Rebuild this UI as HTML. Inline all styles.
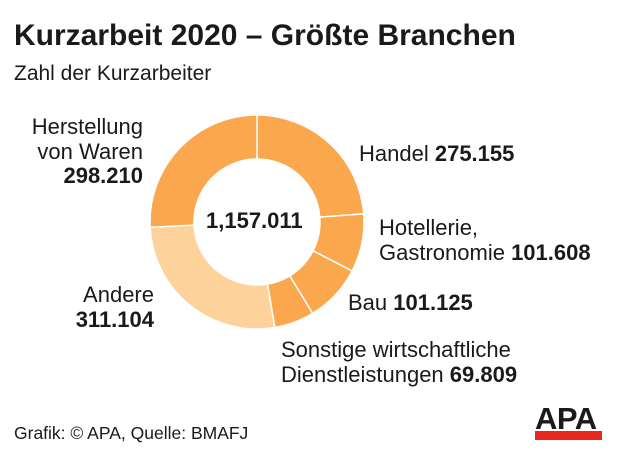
<!DOCTYPE html>
<html><head><meta charset="utf-8"><style>
body{margin:0;width:620px;height:459px;background:#fff;font-family:"Liberation Sans",sans-serif;color:#1a1a1a;position:relative;overflow:hidden}
.t{position:absolute;white-space:nowrap;font-size:22px;line-height:24.5px}
b{font-weight:bold}
</style></head><body>
<div class="t" style="left:14px;top:19px;font-size:30px;font-weight:bold;line-height:34px">Kurzarbeit 2020 – Größte Branchen</div>
<div class="t" style="left:14px;top:62px;font-size:21px">Zahl der Kurzarbeiter</div>
<svg id="s" width="620" height="459" style="position:absolute;left:0;top:0"></svg>
<div class="t" style="left:206px;top:209px;font-size:22px;font-weight:bold">1,157.011</div>
<div class="t" style="left:0px;top:115px;text-align:right;width:143px">Herstellung<br>von Waren<br><b>298.210</b></div>
<div class="t" style="left:359px;top:142px">Handel <b>275.155</b></div>
<div class="t" style="left:379px;top:216px">Hotellerie,<br>Gastronomie <b>101.608</b></div>
<div class="t" style="left:348px;top:291px">Bau <b>101.125</b></div>
<div class="t" style="left:281px;top:338px">Sonstige wirtschaftliche<br>Dienstleistungen <b>69.809</b></div>
<div class="t" style="left:0px;top:283px;text-align:right;width:154px">Andere<br><b>311.104</b></div>
<div class="t" style="left:14px;top:421px;font-size:17.5px">Grafik: © APA, Quelle: BMAFJ</div>
<div style="position:absolute;left:535px;top:431px;width:67px;height:9px;background:#e8281e"></div>
<div class="t" style="left:535px;top:403px;font-size:31px;font-weight:bold;line-height:32px;letter-spacing:-0.5px">APA</div>
<script>
var d=[[275155,'#fba74e'],[101608,'#fba74e'],[101125,'#fba74e'],[69809,'#fba74e'],[311104,'#fdd39b'],[298210,'#fba74e']];
var cx=257,cy=222,R=107,r=63,tot=1157011,a=0,h='';
function p(rad,ang){return [cx+rad*Math.sin(ang),cy-rad*Math.cos(ang)]}
d.forEach(function(e){var b=a+e[0]/tot*2*Math.PI,l=(b-a)>Math.PI?1:0;
var p1=p(R,a),p2=p(R,b),p3=p(r,b),p4=p(r,a);
h+='<path d="M'+p1+' A'+R+' '+R+' 0 '+l+' 1 '+p2+' L'+p3+' A'+r+' '+r+' 0 '+l+' 0 '+p4+'Z" fill="'+e[1]+'" stroke="#fff" stroke-width="1.5"/>';a=b;});
document.getElementById('s').innerHTML=h;
</script>
</body></html>
